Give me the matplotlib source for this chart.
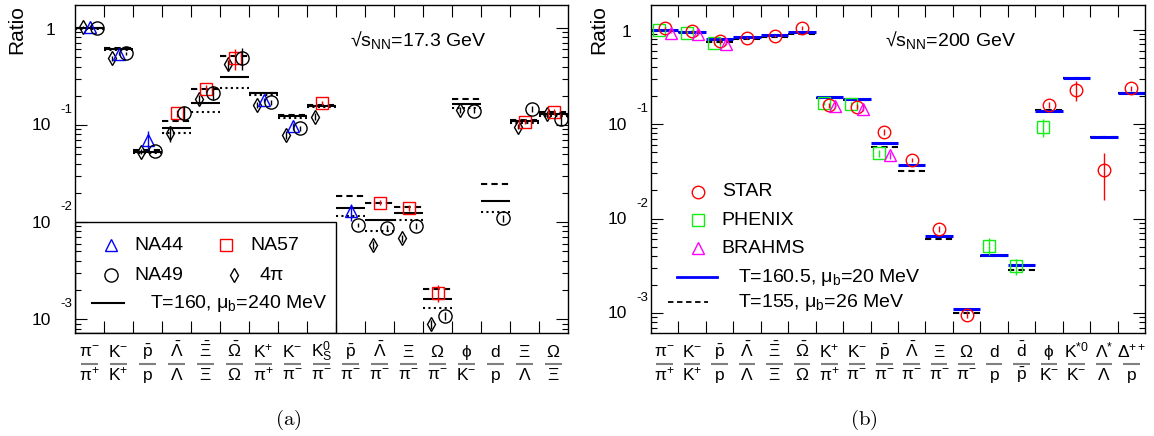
import numpy as np
import matplotlib
matplotlib.use("Agg")
import matplotlib.pyplot as plt
import matplotlib.transforms as mtransforms
from matplotlib.patches import Rectangle
from matplotlib.ticker import LogLocator, NullFormatter

nan = np.nan

# (a) SPS, sqrt(s_NN) = 17.3 GeV
sps_numerators = [
    r"\pi^{-}", r"\mathrm{K}^{-}", r"\bar{\mathrm{p}}", r"\bar{\Lambda}", r"\bar{\Xi}",
    r"\bar{\Omega}", r"\mathrm{K}^{+}", r"\mathrm{K}^{-}", r"\mathrm{K}^{0}_{\mathrm{S}}",
    r"\bar{\mathrm{p}}", r"\bar{\Lambda}", r"\Xi", r"\Omega", r"\phi", r"\mathrm{d}",
    r"\Xi", r"\Omega",
]
sps_denominators = [
    r"\pi^{+}", r"\mathrm{K}^{+}", r"\mathrm{p}", r"\Lambda", r"\Xi", r"\Omega",
    r"\pi^{+}", r"\pi^{-}", r"\pi^{-}", r"\pi^{-}", r"\pi^{-}", r"\pi^{-}", r"\pi^{-}",
    r"\mathrm{K}^{-}", r"\mathrm{p}", r"\Lambda", r"\Xi",
]
sps_na44 = [1.03, 0.54, 0.070, nan, nan, nan, 0.181, 0.0976, nan, 0.0129,
            nan, nan, nan, nan, nan, nan, nan]
sps_na44_err = [0.03, 0.02, 0.016, 0, 0, 0, 0.01, 0.008, 0, 0.0026,
                0, 0, 0, 0, 0, 0, 0]
sps_na57 = [nan, nan, nan, 0.132, 0.235, 0.487, nan, nan, 0.170, nan,
            0.0159, 0.0139, 0.00187, nan, nan, 0.108, 0.137]
sps_na57_err = [0, 0, 0, 0.012, 0.02, 0.12, 0, 0, 0.008, 0,
                0.001, 0.001, 0.00037, 0, 0, 0.006, 0.01]
sps_na49 = [1.0, 0.548, 0.054, 0.134, 0.215, 0.494, 0.171, 0.0926, nan, 0.00935,
            0.00864, 0.00913, 0.00109, 0.140, 0.0109, 0.146, 0.115]
sps_na49_err = [0.02, 0.02, 0.003, 0.022, 0.035, 0.13, 0.01, 0.005, 0, 0.0005,
                0.0006, 0.0007, 0.0001, 0.008, 0.0008, 0.01, 0.015]
sps_4pi = [1.02, 0.487, 0.053, 0.082, 0.184, 0.422, 0.161, 0.079, 0.122, nan,
           0.00582, 0.00681, 0.000889, 0.143, nan, 0.0962, 0.129]
sps_4pi_err = [0.03, 0.03, 0.003, 0.015, 0.02, 0.05, 0.01, 0.008, 0.01, 0,
               0.0005, 0.0006, 0.0001, 0.01, 0, 0.006, 0.01]
sps_model_solid = [1.0, 0.607, 0.0532, 0.0928, 0.167, 0.315, 0.212, 0.124, 0.157,
                   0.0141, 0.0105, 0.0123, 0.00161, 0.163, 0.0166, 0.110, 0.130]
sps_model_dashed = [1.0, 0.625, 0.0553, 0.111, 0.233, 0.514, 0.215, 0.128, 0.160,
                    0.0187, 0.0156, 0.0144, 0.00204, 0.184, 0.0245, 0.112, 0.137]
sps_model_dotted = [0.98, 0.59, 0.0512, 0.0833, 0.137, 0.242, 0.205, 0.118, 0.152,
                    0.0115, 0.00808, 0.0105, 0.00129, 0.149, 0.0128, 0.106, 0.124]

# (b) RHIC, sqrt(s_NN) = 200 GeV
rhic_numerators = [
    r"\pi^{-}", r"\mathrm{K}^{-}", r"\bar{\mathrm{p}}", r"\bar{\Lambda}", r"\bar{\Xi}",
    r"\bar{\Omega}", r"\mathrm{K}^{+}", r"\mathrm{K}^{-}", r"\bar{\mathrm{p}}",
    r"\bar{\Lambda}", r"\Xi", r"\Omega", r"\mathrm{d}", r"\bar{\mathrm{d}}", r"\phi",
    r"\mathrm{K}^{*0}", r"\Lambda^{*}", r"\Delta^{++}",
]
rhic_denominators = [
    r"\pi^{+}", r"\mathrm{K}^{+}", r"\mathrm{p}", r"\Lambda", r"\Xi", r"\Omega",
    r"\pi^{+}", r"\pi^{-}", r"\pi^{-}", r"\pi^{-}", r"\pi^{-}", r"\pi^{-}",
    r"\mathrm{p}", r"\bar{\mathrm{p}}", r"\mathrm{K}^{-}", r"\mathrm{K}^{-}",
    r"\Lambda", r"\mathrm{p}",
]
rhic_star = [1.03, 0.96, 0.76, 0.82, 0.853, 1.045, 0.159, 0.153, 0.0829, 0.0418,
             0.00775, 0.000962, nan, nan, 0.159, 0.229, 0.0327, 0.238]
rhic_star_err = [0.03, 0.04, 0.05, 0.02, 0.02, 0.05, 0.01, 0.01, 0.006, 0.002,
                 0.0005, 0.00008, 0, 0, 0.012, 0.055, 0.017, 0.015]
rhic_phenix = [1.0, 0.93, 0.725, nan, nan, nan, 0.168, 0.163, 0.0491, nan,
               nan, nan, 0.00515, 0.00315, 0.0938, nan, nan, nan]
rhic_phenix_err = [0.03, 0.03, 0.04, 0, 0, 0, 0.008, 0.008, 0.004, 0,
                   0, 0, 0.001, 0.0006, 0.02, 0, 0, 0]
rhic_brahms = [0.93, 0.89, 0.71, nan, nan, nan, 0.155, 0.146, 0.047, nan,
               nan, nan, nan, nan, nan, nan, nan, nan]
rhic_brahms_err = [0.02, 0.02, 0.03, 0, 0, 0, 0.008, 0.008, 0.004, 0,
                   0, 0, 0, 0, 0, 0, 0, 0]
rhic_model_blue = [1.0, 0.948, 0.794, 0.839, 0.881, 0.933, 0.191, 0.183, 0.0634,
                   0.0369, 0.00652, 0.00110, 0.00416, 0.00319, 0.138, 0.304, 0.0734, 0.211]
rhic_model_dashed = [0.97, 0.94, 0.73, 0.788, 0.84, 0.903, 0.188, 0.181, 0.0568,
                     0.0321, 0.00601, 0.000992, 0.00397, 0.00282, 0.14, 0.307, 0.0734, 0.211]

FIG_W, FIG_H = 1154, 436
LEFT_BOX = (75, 568, 5, 333)     # x0, x1, y_top, y_bottom in pixels
RIGHT_BOX = (651, 1145, 5, 333)

GREEN = "#11ee11"
LEGEND_SIZE = 14


def setup_fonts() -> None:
    plt.rcParams["font.family"] = ["Liberation Sans", "DejaVu Sans"]
    plt.rcParams["mathtext.fontset"] = "custom"
    plt.rcParams["mathtext.rm"] = "Liberation Sans"
    plt.rcParams["mathtext.it"] = "Liberation Sans"
    plt.rcParams["mathtext.bf"] = "Liberation Sans:bold"
    plt.rcParams["mathtext.fallback"] = "stixsans"
    plt.rcParams["axes.linewidth"] = 1.0


def make_axes(fig, box):
    x0, x1, yt, yb = box
    return fig.add_axes([x0 / FIG_W, 1 - yb / FIG_H, (x1 - x0) / FIG_W, (yb - yt) / FIG_H])


def px_to_axes(box, x, y):
    x0, x1, yt, yb = box
    return (x - x0) / (x1 - x0), (yb - y) / (yb - yt)


def px_offset(fig, dx, dy):
    return mtransforms.ScaledTranslation(dx / 100, dy / 100, fig.dpi_scale_trans)


def draw_frame(ax, n_bins: int, ylim) -> None:
    ax.set_yscale("log")
    ax.set_xlim(-0.5, n_bins - 0.5)
    ax.set_ylim(*ylim)
    ax.set_xticks(np.arange(n_bins - 1) + 0.5)
    ax.set_xticklabels([])
    ax.set_yticks([1e-3, 1e-2, 1e-1, 1])
    ax.yaxis.set_minor_locator(LogLocator(base=10, subs=np.arange(2, 10)))
    ax.yaxis.set_minor_formatter(NullFormatter())
    ax.tick_params(which="both", direction="in", top=True, right=True, width=0.8,
                   labelleft=False)
    ax.tick_params(which="major", length=8.5)
    ax.tick_params(which="minor", length=4.3)
    ax.tick_params(axis="x", which="minor", bottom=False, top=False)

    # ROOT-like decade labels: "10" on the tick, exponent raised above it
    fig = ax.figure
    trans = mtransforms.blended_transform_factory(ax.transAxes, ax.transData)
    ax.text(0, 1, "1", transform=trans + px_offset(fig, -20, -3), ha="right", va="center",
            fontsize=12.5)
    for power in (-1, -2, -3):
        ax.text(0, 10.0 ** power, "10", transform=trans + px_offset(fig, -24, -1),
                ha="right", va="center", fontsize=12.5)
        ax.text(0, 10.0 ** power, f"-{-power}", transform=trans + px_offset(fig, -3, 15),
                ha="right", va="center", fontsize=9.5)


def draw_fraction_labels(ax, numerators, denominators, bar_half: float) -> None:
    trans = mtransforms.blended_transform_factory(ax.transData, ax.transAxes)
    for i, (num, den) in enumerate(zip(numerators, denominators)):
        ax.text(i, -0.073, f"${num}$", transform=trans, ha="center", va="baseline", fontsize=12.5)
        ax.plot([i - bar_half, i + bar_half], [-0.0945, -0.0945], transform=trans,
                color="0.5", lw=1.5, clip_on=False, solid_capstyle="butt")
        ax.text(i, -0.1433, f"${den}$", transform=trans, ha="center", va="baseline", fontsize=12.5)


def draw_model(ax, values, **style) -> None:
    x = np.arange(len(values))
    ax.hlines(values, x - 0.5, x + 0.5, **style)


def draw_points(ax, values, errors, offset: float, marker: str, color: str, size: float) -> None:
    x = np.arange(len(values)) + offset
    ax.errorbar(x, values, yerr=errors, fmt="none", ecolor=color, elinewidth=1.0, capsize=0)
    ax.plot(x, values, linestyle="none", marker=marker, mfc="none", mec=color, ms=size, mew=1.0)


def plot_sps(fig):
    ax = make_axes(fig, LEFT_BOX)
    draw_frame(ax, len(sps_numerators), (7.2e-4, 1.72))
    draw_fraction_labels(ax, sps_numerators, sps_denominators, 0.28)

    # Model lines
    draw_model(ax, sps_model_dashed, colors="black", linestyles=(0, (3, 2)), lw=1.5)
    draw_model(ax, sps_model_dotted, colors="black", linestyles=(0, (1, 1.6)), lw=1.5)
    draw_model(ax, sps_model_solid, colors="black", linestyles="solid", lw=1.5)

    # Data
    draw_points(ax, sps_4pi, sps_4pi_err, -0.22, "d", "black", 7.5)
    draw_points(ax, sps_na44, sps_na44_err, 0.0, "^", "blue", 9)
    draw_points(ax, sps_na57, sps_na57_err, 0.0, "s", "red", 8.5)
    draw_points(ax, sps_na49, sps_na49_err, 0.25, "o", "black", 9.5)

    # Legend
    box = LEFT_BOX
    (bx0, by0), (bx1, by1) = px_to_axes(box, 75, 333), px_to_axes(box, 336, 222)
    ax.add_patch(Rectangle((bx0, by0), bx1 - bx0, by1 - by0, transform=ax.transAxes,
                           fill=False, lw=1.0, ec="black", zorder=1))
    entries = [
        (110.7, 245, "^", "blue", 9, 134, "NA44"),
        (225.7, 245, "s", "red", 8.5, 250.7, "NA57"),
        (110.7, 275, "o", "black", 9.5, 134, "NA49"),
        (234.0, 275, "d", "black", 7.5, 259, r"4$\pi$"),
    ]
    for mx, my, marker, color, size, tx, label in entries:
        ax.plot(*px_to_axes(box, mx, my), transform=ax.transAxes, marker=marker, mfc="none",
                mec=color, ms=size, mew=1.0, linestyle="none")
        ax.text(*px_to_axes(box, tx, my), label, transform=ax.transAxes, ha="left",
                va="center", fontsize=LEGEND_SIZE)
    lx0, ly = px_to_axes(box, 91.7, 303.3)
    lx1, _ = px_to_axes(box, 124, 303.3)
    ax.plot([lx0, lx1], [ly, ly], transform=ax.transAxes, color="black", lw=1.5)
    ax.text(*px_to_axes(box, 150, 303.3), r"T=160, $\mu_{\mathrm{b}}$=240 MeV",
            transform=ax.transAxes, ha="left", va="center", fontsize=LEGEND_SIZE)

    ax.text(*px_to_axes(box, 350, 40), "\u221as$_{\\mathrm{NN}}$=17.3 GeV",
            transform=ax.transAxes, ha="left", va="center", fontsize=LEGEND_SIZE)
    return ax


def plot_rhic(fig):
    ax = make_axes(fig, RIGHT_BOX)
    draw_frame(ax, len(rhic_numerators), (6.14e-4, 1.82))
    draw_fraction_labels(ax, rhic_numerators, rhic_denominators, 0.3)

    # Model lines
    draw_model(ax, rhic_model_dashed, colors="black", linestyles=(0, (3, 2)), lw=1.5)
    draw_model(ax, rhic_model_blue, colors="blue", linestyles="solid", lw=2.2)

    # Data
    draw_points(ax, rhic_phenix, rhic_phenix_err, -0.2, "s", GREEN, 8)
    draw_points(ax, rhic_star, rhic_star_err, 0.0, "o", "red", 9)
    draw_points(ax, rhic_brahms, rhic_brahms_err, 0.22, "^", "magenta", 9)

    # Legend
    box = RIGHT_BOX
    entries = [
        (698.3, 191.7, "o", "red", 9, "STAR"),
        (698.3, 220.0, "s", GREEN, 8, "PHENIX"),
        (698.3, 248.0, "^", "magenta", 9, "BRAHMS"),
    ]
    for mx, my, marker, color, size, label in entries:
        ax.plot(*px_to_axes(box, mx, my), transform=ax.transAxes, marker=marker, mfc="none",
                mec=color, ms=size, mew=1.0, linestyle="none")
        ax.text(*px_to_axes(box, 721.7, my), label, transform=ax.transAxes, ha="left",
                va="center", fontsize=LEGEND_SIZE)
    for x0, x1, y, color, style, lw, label in [
        (676.7, 716.7, 277.3, "blue", "solid", 2.0, r"T=160.5, $\mu_{\mathrm{b}}$=20 MeV"),
        (668.0, 708.0, 302.3, "black", (0, (3, 2)), 1.3, r"T=155, $\mu_{\mathrm{b}}$=26 MeV"),
    ]:
        ax0, ay = px_to_axes(box, x0, y)
        ax1, _ = px_to_axes(box, x1, y)
        ax.plot([ax0, ax1], [ay, ay], transform=ax.transAxes, color=color, linestyle=style, lw=lw)
        ax.text(*px_to_axes(box, 738.3, y), label, transform=ax.transAxes, ha="left",
                va="center", fontsize=LEGEND_SIZE)

    ax.text(*px_to_axes(box, 885, 40), "\u221as$_{\\mathrm{NN}}$=200 GeV",
            transform=ax.transAxes, ha="left", va="center", fontsize=LEGEND_SIZE)
    return ax


def main() -> None:
    setup_fonts()
    fig = plt.figure(figsize=(FIG_W / 100, FIG_H / 100), dpi=100)
    plot_sps(fig)
    plot_rhic(fig)

    # Axis titles and captions
    for x in (17, 599):
        fig.text(x / FIG_W, 1 - 5 / FIG_H, "Ratio", rotation=90, ha="center", va="top", fontsize=15)
    for x, label in ((288, r"$\mathrm{(a)}$"), (864, r"$\mathrm{(b)}$")):
        fig.text(x / FIG_W, 1 - 420 / FIG_H, label, ha="center", va="center", fontsize=15,
                 math_fontfamily="cm")
    fig.savefig("out.png", dpi=100)


if __name__ == "__main__":
    main()
